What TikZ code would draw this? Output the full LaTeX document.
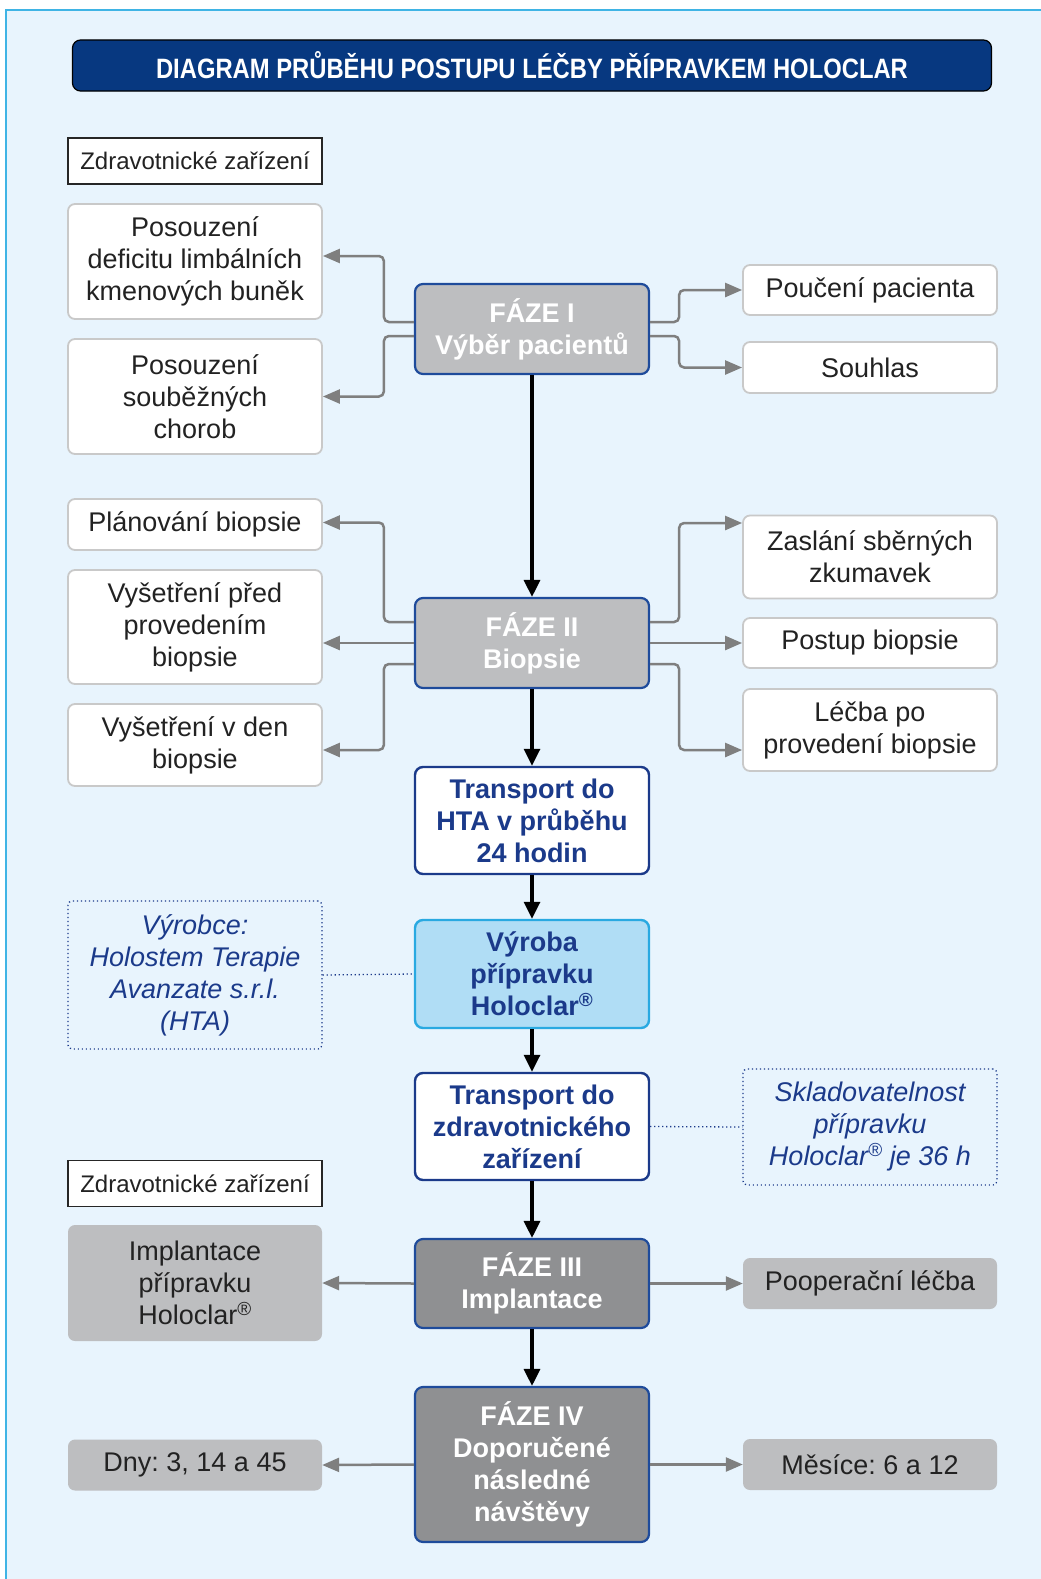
\documentclass[tikz,border=0pt]{standalone}
\usepackage{fontspec}
\setmainfont{Liberation Sans}
\newfontfamily\titlefont[FakeStretch=0.85,UprightFont=*-Bold]{Liberation Sans}
\usetikzlibrary{arrows.meta}
\definecolor{bgc}{HTML}{E8F4FD}
\definecolor{framec}{HTML}{3FB4E5}
\definecolor{titlenavy}{HTML}{073880}
\definecolor{phgray}{HTML}{BDBEC0}
\definecolor{phdark}{HTML}{8F9092}
\definecolor{phblue}{HTML}{1E4B9B}
\definecolor{navy}{HTML}{1B3A8A}
\definecolor{vyfill}{HTML}{B0DDF5}
\definecolor{vyborder}{HTML}{29A9E1}
\definecolor{sideborder}{HTML}{C9C9C9}
\definecolor{conc}{HTML}{7F7F7F}
\definecolor{textc}{HTML}{222222}
\newcommand\bfnt{\fontsize{27}{32}\selectfont}
\newcommand\sfnt{\fontsize{24}{28}\selectfont}
\frenchspacing
\begin{document}
\begin{tikzpicture}[x=1pt,y=-1pt,
  sidebox/.style={draw=sideborder, line width=1.8pt, fill=white, rounded corners=7pt,
    minimum width=254pt, align=center, font=\bfnt, text=textc, inner sep=0pt},
  graybox/.style={fill=phgray, rounded corners=7pt,
    minimum width=254pt, align=center, font=\bfnt, text=textc, inner sep=0pt},
  zdrbox/.style={draw=black!85, line width=1.3pt, fill=white,
    minimum width=254pt, minimum height=46pt, align=center, font=\sfnt, text=textc, inner sep=0pt},
  dotbox/.style={draw=navy, line width=1.3pt, dash pattern=on 1.2pt off 2.8pt, rounded corners=4pt,
    minimum width=254pt, align=center, font=\itshape\bfnt, text=navy, inner sep=0pt},
  phaseA/.style={fill=phgray, draw=phblue, line width=2.2pt, rounded corners=8pt,
    minimum width=234pt, minimum height=90pt, align=center, font=\bfseries\bfnt, text=white, inner sep=0pt},
  phaseB/.style={phaseA, fill=phdark},
  trbox/.style={fill=white, draw=navy, line width=2.4pt, rounded corners=8pt,
    minimum width=234pt, minimum height=107pt, align=center, font=\bfseries\bfnt, text=navy, inner sep=0pt},
  vybox/.style={trbox, fill=vyfill, draw=vyborder},
  garrow/.style={draw=conc, line width=2.5pt, rounded corners=5pt,
    -{Triangle[length=17pt,width=14pt]}},
  barrow/.style={draw=black, line width=3.2pt, -{Triangle[length=17pt,width=16pt]}},
  dotline/.style={draw=navy, line width=1.3pt, dash pattern=on 1.2pt off 2.8pt}
]
\useasboundingbox (0,0) rectangle (1041,1579);
\fill[white] (0,0) rectangle (1041,1579);
\fill[bgc] (6,10) rectangle (1041,1579);
\draw[framec, line width=2pt] (6,1579) -- (6,10) -- (1041,10);

% title
\node[fill=titlenavy, draw=black, line width=1.2pt, rounded corners=8pt,
  minimum width=919pt, minimum height=51pt, inner sep=0pt, text=white,
  font=\titlefont\fontsize{28}{32}\selectfont] (title) at (532,65.5)
  {DIAGRAM PRŮBĚHU POSTUPU LÉČBY PŘÍPRAVKEM HOLOCLAR};

% left column
\node[zdrbox] (zdr1) at (195,161) {Zdravotnické zařízení};
\node[sidebox, minimum height=115pt] (a1) at (195,261.5) {Posouzení\\deficitu limbálních\\kmenových buněk};
\node[sidebox, minimum height=115pt] (a2) at (195,396.5) {Posouzení\\souběžných\\chorob};
\node[sidebox, minimum height=51pt] (b1) at (195,524.5) {Plánování biopsie};
\node[sidebox, minimum height=114pt] (b2) at (195,627) {Vyšetření před\\provedením\\biopsie};
\node[sidebox, minimum height=82pt] (b3) at (195,745) {Vyšetření v den\\biopsie};
\node[dotbox, minimum height=148pt] (vyr) at (195,975) {Výrobce:\\Holostem Terapie\\Avanzate s.r.l.\\(HTA)};
\node[zdrbox] (zdr2) at (195,1183.5) {Zdravotnické zařízení};
\node[graybox, minimum height=116pt] (imp) at (195,1283) {Implantace\\přípravku\\Holoclar\textsuperscript{®}};
\node[graybox, minimum height=51pt] (dny) at (195,1465) {Dny: 3, 14 a 45};

% centre column
\node[phaseA] (p1) at (532,329) {FÁZE I\\Výběr pacientů};
\node[phaseA] (p2) at (532,643) {FÁZE II\\Biopsie};
\node[trbox] (t1) at (532,820.5) {Transport do\\HTA v průběhu\\24 hodin};
\node[vybox, minimum height=108pt] (vy) at (532,974) {Výroba\\přípravku\\Holoclar\textsuperscript{®}};
\node[trbox] (t2) at (532,1126.5) {Transport do\\zdravotnického\\zařízení};
\node[phaseB, minimum height=89pt] (p3) at (532,1283.5) {FÁZE III\\Implantace};
\node[phaseB, minimum height=155pt] (p4) at (532,1464.5) {FÁZE IV\\Doporučené\\následné\\návštěvy};

% right column
\node[sidebox, minimum height=50pt] (r1) at (870,290) {Poučení pacienta};
\node[sidebox, minimum height=51pt] (r2) at (870,367.5) {Souhlas};
\node[sidebox, minimum height=83pt] (r3) at (870,557) {Zaslání sběrných\\zkumavek};
\node[sidebox, minimum height=50pt] (r4) at (870,643) {Postup biopsie};
\node[sidebox, minimum height=82pt] (r5) at (870,730) {Léčba po\\provedení biopsie};
\node[dotbox, minimum height=116pt] (skl) at (870,1127) {Skladovatelnost\\přípravku\\Holoclar\textsuperscript{®} je 36 h};
\node[graybox, minimum height=51pt] (r6) at (870,1283.5) {Pooperační léčba};
\node[graybox, minimum height=51pt] (r7) at (870,1464.5) {Měsíce: 6 a 12};

% main flow
\draw[barrow] (p1.south) -- (p2.north);
\draw[barrow] (p2.south) -- (t1.north);
\draw[barrow] (t1.south) -- (vy.north);
\draw[barrow] (vy.south) -- (t2.north);
\draw[barrow] (t2.south) -- (p3.north);
\draw[barrow] (p3.south) -- (p4.north);

% phase I branches
\draw[garrow] ([yshift=7pt]p1.west) -- ++(-30,0) |- ([yshift=5.5pt]a1.east);
\draw[garrow] ([yshift=-7pt]p1.west) -- ++(-30,0) |- (a2.east);
\draw[garrow] ([yshift=7pt]p1.east) -- ++(29,0) |- (r1.west);
\draw[garrow] ([yshift=-7pt]p1.east) -- ++(29,0) |- (r2.west);

% phase II branches
\draw[garrow] ([yshift=21pt]p2.west) -- ++(-30,0) |- ([yshift=2pt]b1.east);
\draw[garrow] (p2.west) -- (p2.west -| b2.east);
\draw[garrow] ([yshift=-21pt]p2.west) -- ++(-30,0) |- ([yshift=-5pt]b3.east);
\draw[garrow] ([yshift=21pt]p2.east) -- ++(29,0) |- ([yshift=34pt]r3.west);
\draw[garrow] (p2.east) -- (r4.west);
\draw[garrow] ([yshift=-21pt]p2.east) -- ++(29,0) |- ([yshift=-20pt]r5.west);

% dotted links
\draw[dotline] (vyr.east) -- (vy.west);
\draw[dotline] (t2.east) -- (skl.west);

% phase III / IV branches
\draw[garrow] (p3.west) -- (imp.east);
\draw[garrow] (p3.east) -- (r6.west);
\draw[garrow] (p4.west) -- (dny.east);
\draw[garrow] (p4.east) -- (r7.west);
\end{tikzpicture}
\end{document}
